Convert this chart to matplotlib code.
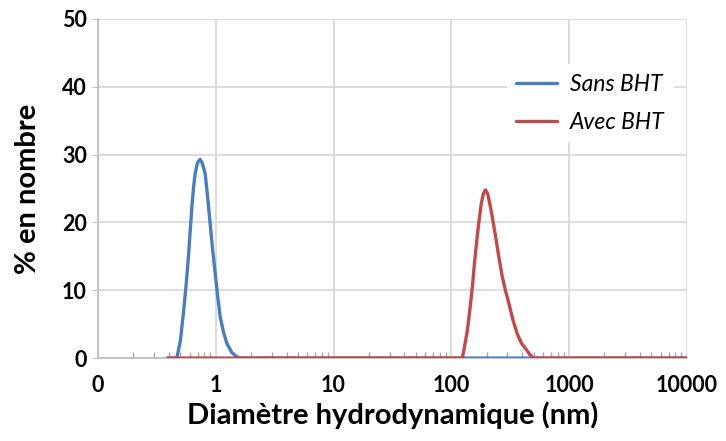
import matplotlib.pyplot as plt
from matplotlib.ticker import FixedLocator, NullFormatter

plt.rcParams['font.family'] = ['Lato', 'DejaVu Sans']

# Sans BHT (blue) - diameter in nm, % en nombre
sans_d = [0.39, 0.467, 0.50, 0.531, 0.56, 0.586, 0.607, 0.627, 0.648, 0.668, 0.70,
          0.736, 0.77, 0.813, 0.85, 0.895, 0.94, 0.989, 1.04, 1.09, 1.16, 1.24,
          1.37, 1.51, 1.61, 10000]
sans_pct = [0, 0, 2.5, 6.6, 10.8, 14.9, 18.8, 22.3, 25.2, 27.2, 28.8,
            29.3, 28.7, 27.2, 24.0, 19.9, 16.0, 12.5, 9.0, 6.1, 3.9, 2.2,
            0.8, 0.2, 0, 0]

# Avec BHT (red)
avec_d = [0.39, 124, 130, 137, 144, 151, 158, 166, 173, 180, 187, 195, 204, 215,
          226, 238, 254, 271, 289, 308, 334, 363, 394, 428, 465, 503, 10000]
avec_pct = [0, 0, 1.8, 4.1, 7.2, 10.5, 14.3, 17.9, 20.6, 22.8, 24.2, 24.8, 24.2, 22.3,
            20.2, 17.9, 14.8, 12.0, 9.9, 8.1, 5.6, 3.6, 2.2, 1.4, 0.5, 0, 0]

xticks = [0.1, 1, 10, 100, 1000, 10000]
xtick_labels = ['0', '1', '10', '100', '1000', '10000']
yticks = [0, 10, 20, 30, 40, 50]

fig = plt.figure(figsize=(7.26, 4.41), dpi=100)
ax = fig.add_axes([0.135, 0.188, 0.811, 0.769])

ax.plot(sans_d, sans_pct, color='#4a7ebb', lw=2.4, label='Sans BHT',
        solid_joinstyle='round', solid_capstyle='round', zorder=3)
ax.plot(avec_d, avec_pct, color='#be4b48', lw=2.4, label='Avec BHT',
        solid_joinstyle='round', solid_capstyle='round', zorder=4)

ax.set_xscale('log')
ax.set_xlim(0.1, 10000)
ax.set_ylim(0, 50)
ax.xaxis.set_major_locator(FixedLocator(xticks))
ax.set_xticklabels(xtick_labels)
ax.xaxis.set_minor_locator(FixedLocator([m * 10.0 ** e for e in range(-1, 4) for m in range(2, 10)]))
ax.xaxis.set_minor_formatter(NullFormatter())
ax.set_yticks(yticks)

ax.grid(True, which='major', color='#d9d9d9', lw=1.3, zorder=0)
for s in ['top', 'right']:
    ax.spines[s].set_visible(False)
for s in ['left', 'bottom']:
    ax.spines[s].set_color('#bfbfbf')
    ax.spines[s].set_linewidth(1.3)

ax.tick_params(axis='x', which='major', length=0, pad=12, labelsize=15.5)
ax.tick_params(axis='x', which='minor', direction='in', length=4, color='#a6a6a6', width=1)
ax.tick_params(axis='y', length=4, color='#bfbfbf', pad=4, labelsize=15.5)
for lab in ax.get_xticklabels() + ax.get_yticklabels():
    lab.set_fontweight('bold')

ax.set_xlabel('Diamètre hydrodynamique (nm)', fontsize=21, fontweight='bold', labelpad=4)
ax.set_ylabel('% en nombre', fontsize=21, fontweight='bold', labelpad=15)

leg = ax.legend(loc='upper left', bbox_to_anchor=(0.694, 0.866), frameon=True,
                fancybox=False, edgecolor='none', framealpha=1, borderaxespad=0,
                prop={'style': 'italic', 'size': 16.5}, handlelength=1.8,
                handletextpad=0.57, labelspacing=0.75)

fig.savefig('out.png', dpi=100)
